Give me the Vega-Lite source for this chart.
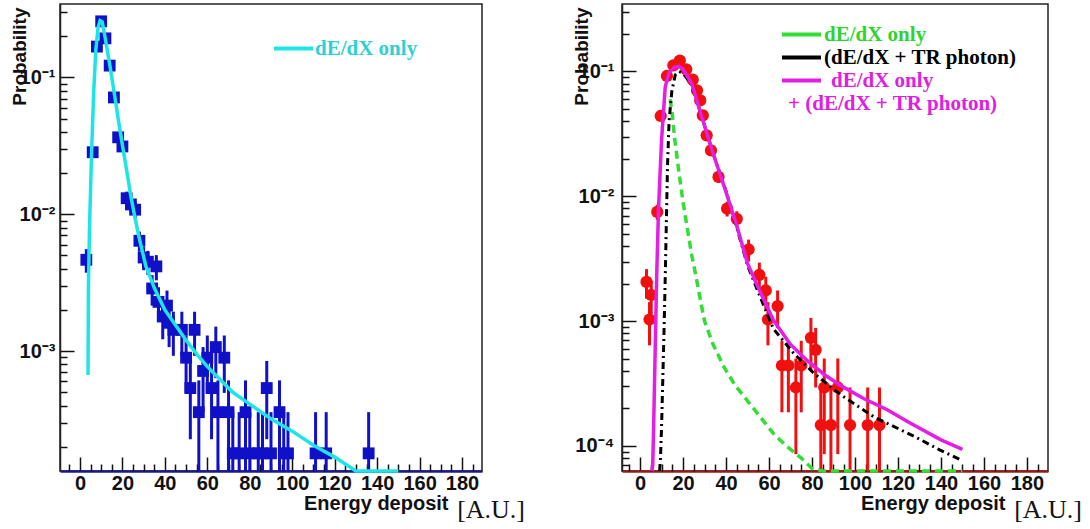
{
  "$schema": "https://vega.github.io/schema/vega-lite/v6.json",
  "background": "white",
  "padding": {"left": 9, "top": 3, "right": 5, "bottom": 5},
  "bounds": "flush",
  "spacing": 140,
  "resolve": {"scale": {"color": "independent"}, "legend": {"color": "independent"}},
  "config": {
    "font": "Liberation Sans",
    "view": {"stroke": "#222222", "strokeWidth": 1.5},
    "axis": {"grid": false, "zindex": 1, "tickColor": "#111111", "tickWidth": 1.5, "labelFlush": false, "labelOverlap": false}
  },
  "datasets": {
    "leftHist": [
      {"energy": 3, "prob": 0.00465, "lo": 0.00374, "hi": 0.00556},
      {"energy": 6, "prob": 0.0284, "lo": 0.0262, "hi": 0.0306},
      {"energy": 8, "prob": 0.168, "lo": 0.1625, "hi": 0.1735},
      {"energy": 10, "prob": 0.257, "lo": 0.2502, "hi": 0.2638},
      {"energy": 12, "prob": 0.193, "lo": 0.1871, "hi": 0.1989},
      {"energy": 14, "prob": 0.122, "lo": 0.1173, "hi": 0.1267},
      {"energy": 16, "prob": 0.0714, "lo": 0.0678, "hi": 0.075},
      {"energy": 18, "prob": 0.0365, "lo": 0.0339, "hi": 0.0391},
      {"energy": 20, "prob": 0.0313, "lo": 0.0289, "hi": 0.0337},
      {"energy": 22, "prob": 0.0131, "lo": 0.01157, "hi": 0.01463},
      {"energy": 24, "prob": 0.0118, "lo": 0.01035, "hi": 0.01325},
      {"energy": 26, "prob": 0.0108, "lo": 0.0094, "hi": 0.0122},
      {"energy": 28, "prob": 0.0064, "lo": 0.00533, "hi": 0.00747},
      {"energy": 30, "prob": 0.00483, "lo": 0.0039, "hi": 0.00576},
      {"energy": 32, "prob": 0.0045, "lo": 0.0036, "hi": 0.0054},
      {"energy": 34, "prob": 0.00287, "lo": 0.00215, "hi": 0.00359},
      {"energy": 36, "prob": 0.00416, "lo": 0.00329, "hi": 0.00503},
      {"energy": 37, "prob": 0.00229, "lo": 0.00166, "hi": 0.00293},
      {"energy": 39, "prob": 0.00179, "lo": 0.00122, "hi": 0.00236},
      {"energy": 41, "prob": 0.00215, "lo": 0.00153, "hi": 0.00277},
      {"energy": 42, "prob": 0.00161, "lo": 0.00107, "hi": 0.00215},
      {"energy": 44, "prob": 0.00143, "lo": 0.000924, "hi": 0.00194},
      {"energy": 48, "prob": 0.00143, "lo": 0.000924, "hi": 0.00194},
      {"energy": 50, "prob": 0.000895, "lo": 0.000495, "hi": 0.0013},
      {"energy": 52, "prob": 0.000537, "lo": 0.000227, "hi": 0.000847},
      {"energy": 54, "prob": 0.00143, "lo": 0.000924, "hi": 0.00194},
      {"energy": 56, "prob": 0.000358, "lo": 0.000105, "hi": 0.000611},
      {"energy": 58, "prob": 0.000716, "lo": 0.000358, "hi": 0.00107},
      {"energy": 60, "prob": 0.000895, "lo": 0.000495, "hi": 0.0013},
      {"energy": 62, "prob": 0.000537, "lo": 0.000227, "hi": 0.000847},
      {"energy": 64, "prob": 0.00107, "lo": 0.000634, "hi": 0.00151},
      {"energy": 65, "prob": 0.000358, "lo": 0.000105, "hi": 0.000611},
      {"energy": 68, "prob": 0.000895, "lo": 0.000495, "hi": 0.0013},
      {"energy": 70, "prob": 0.000358, "lo": 0.000105, "hi": 0.000611},
      {"energy": 72, "prob": 0.000179, "lo": 0.000001, "hi": 0.000358},
      {"energy": 75, "prob": 0.000179, "lo": 0.000001, "hi": 0.000358},
      {"energy": 78, "prob": 0.000358, "lo": 0.000105, "hi": 0.000611},
      {"energy": 80, "prob": 0.000179, "lo": 0.000001, "hi": 0.000358},
      {"energy": 84, "prob": 0.000179, "lo": 0.000001, "hi": 0.000358},
      {"energy": 86, "prob": 0.000179, "lo": 0.000001, "hi": 0.000358},
      {"energy": 88, "prob": 0.000537, "lo": 0.000227, "hi": 0.000847},
      {"energy": 90, "prob": 0.000179, "lo": 0.000001, "hi": 0.000358},
      {"energy": 94, "prob": 0.000358, "lo": 0.000105, "hi": 0.000611},
      {"energy": 96, "prob": 0.000179, "lo": 0.000001, "hi": 0.000358},
      {"energy": 98, "prob": 0.000179, "lo": 0.000001, "hi": 0.000358},
      {"energy": 111, "prob": 0.000179, "lo": 0.000001, "hi": 0.000358},
      {"energy": 116, "prob": 0.000179, "lo": 0.000001, "hi": 0.000358},
      {"energy": 136, "prob": 0.000179, "lo": 0.000001, "hi": 0.000358}
    ],
    "leftFit": [
      {"energy": 3.8, "prob": 0.00067}, {"energy": 4.0, "prob": 0.003}, {"energy": 4.5, "prob": 0.008},
      {"energy": 5.5, "prob": 0.029}, {"energy": 6.5, "prob": 0.08}, {"energy": 7.5, "prob": 0.16},
      {"energy": 8.5, "prob": 0.23}, {"energy": 9.5, "prob": 0.26}, {"energy": 10.5, "prob": 0.255},
      {"energy": 12, "prob": 0.19}, {"energy": 14, "prob": 0.125}, {"energy": 16, "prob": 0.08},
      {"energy": 18, "prob": 0.05}, {"energy": 20, "prob": 0.032}, {"energy": 22, "prob": 0.021},
      {"energy": 24, "prob": 0.0135}, {"energy": 26, "prob": 0.0093}, {"energy": 28, "prob": 0.0066},
      {"energy": 31, "prob": 0.0042}, {"energy": 35, "prob": 0.0029}, {"energy": 40, "prob": 0.002},
      {"energy": 45, "prob": 0.00155}, {"energy": 50, "prob": 0.0012}, {"energy": 55, "prob": 0.00095},
      {"energy": 60, "prob": 0.00077}, {"energy": 66, "prob": 0.00062}, {"energy": 72, "prob": 0.0005},
      {"energy": 80, "prob": 0.00041}, {"energy": 90, "prob": 0.00032}, {"energy": 100, "prob": 0.00026},
      {"energy": 110, "prob": 0.000205}, {"energy": 120, "prob": 0.000168}, {"energy": 130, "prob": 0.000133},
      {"energy": 140, "prob": 0.000105}, {"energy": 150, "prob": 0.000085}
    ],
    "rightHist": [
      {"energy": 3, "prob": 0.00206, "lo": 0.00151, "hi": 0.00261},
      {"energy": 4.4, "prob": 0.00103, "lo": 0.00064, "hi": 0.00142},
      {"energy": 5.2, "prob": 0.00162, "lo": 0.00113, "hi": 0.00211},
      {"energy": 8, "prob": 0.0075, "lo": 0.00645, "hi": 0.00855},
      {"energy": 9.6, "prob": 0.044, "lo": 0.0415, "hi": 0.0466},
      {"energy": 12.5, "prob": 0.092, "lo": 0.0883, "hi": 0.0957},
      {"energy": 15.5, "prob": 0.112, "lo": 0.108, "hi": 0.116},
      {"energy": 18.5, "prob": 0.122, "lo": 0.1178, "hi": 0.1262},
      {"energy": 21.5, "prob": 0.104, "lo": 0.1001, "hi": 0.1079},
      {"energy": 24.5, "prob": 0.086, "lo": 0.0825, "hi": 0.0895},
      {"energy": 26.5, "prob": 0.0705, "lo": 0.0673, "hi": 0.0737},
      {"energy": 28, "prob": 0.0586, "lo": 0.0557, "hi": 0.0615},
      {"energy": 29.2, "prob": 0.0445, "lo": 0.0419, "hi": 0.0471},
      {"energy": 31, "prob": 0.0308, "lo": 0.0287, "hi": 0.0329},
      {"energy": 33, "prob": 0.0233, "lo": 0.0214, "hi": 0.0252},
      {"energy": 36.5, "prob": 0.0143, "lo": 0.0128, "hi": 0.0158},
      {"energy": 40.5, "prob": 0.00797, "lo": 0.00689, "hi": 0.00905},
      {"energy": 45, "prob": 0.0066, "lo": 0.00562, "hi": 0.00758},
      {"energy": 50.5, "prob": 0.00375, "lo": 0.003, "hi": 0.0045},
      {"energy": 55.5, "prob": 0.00235, "lo": 0.00176, "hi": 0.00294},
      {"energy": 58.5, "prob": 0.00176, "lo": 0.00125, "hi": 0.00227},
      {"energy": 59.5, "prob": 0.00103, "lo": 0.00064, "hi": 0.00142},
      {"energy": 64, "prob": 0.00132, "lo": 0.00088, "hi": 0.00176},
      {"energy": 66, "prob": 0.000441, "lo": 0.000186, "hi": 0.000696},
      {"energy": 69, "prob": 0.000441, "lo": 0.000186, "hi": 0.000696},
      {"energy": 72.5, "prob": 0.000294, "lo": 0.000086, "hi": 0.000502},
      {"energy": 75, "prob": 0.000441, "lo": 0.000186, "hi": 0.000696},
      {"energy": 79.5, "prob": 0.000735, "lo": 0.000406, "hi": 0.00106},
      {"energy": 81.7, "prob": 0.000588, "lo": 0.000294, "hi": 0.000882},
      {"energy": 84.1, "prob": 0.000147, "lo": 0.000001, "hi": 0.000294},
      {"energy": 85.7, "prob": 0.000294, "lo": 0.000086, "hi": 0.000502},
      {"energy": 88.8, "prob": 0.000147, "lo": 0.000001, "hi": 0.000294},
      {"energy": 92, "prob": 0.000294, "lo": 0.000086, "hi": 0.000502},
      {"energy": 97.7, "prob": 0.000147, "lo": 0.000001, "hi": 0.000294},
      {"energy": 105.9, "prob": 0.000147, "lo": 0.000001, "hi": 0.000294},
      {"energy": 111.4, "prob": 0.000147, "lo": 0.000001, "hi": 0.000294}
    ],
    "greenCurve": [
      {"energy": 14, "prob": 0.06}, {"energy": 15, "prob": 0.045}, {"energy": 16, "prob": 0.03},
      {"energy": 18, "prob": 0.016}, {"energy": 20, "prob": 0.009}, {"energy": 22, "prob": 0.0055},
      {"energy": 24, "prob": 0.0034}, {"energy": 26, "prob": 0.0023}, {"energy": 28, "prob": 0.0015},
      {"energy": 30, "prob": 0.001}, {"energy": 34, "prob": 0.00065}, {"energy": 39, "prob": 0.00043},
      {"energy": 44, "prob": 0.00031}, {"energy": 50, "prob": 0.00023}, {"energy": 56, "prob": 0.00017},
      {"energy": 62, "prob": 0.000126}, {"energy": 68, "prob": 0.0001}, {"energy": 75, "prob": 0.00008},
      {"energy": 80, "prob": 0.000066}, {"energy": 85, "prob": 0.000055}, {"energy": 100, "prob": 0.00004},
      {"energy": 125, "prob": 0.00003}, {"energy": 150, "prob": 0.00002}
    ],
    "blackCurve": [
      {"energy": 9.1, "prob": 0.00004}, {"energy": 9.5, "prob": 0.00008}, {"energy": 10.0, "prob": 0.00014},
      {"energy": 10.5, "prob": 0.0003}, {"energy": 11.2, "prob": 0.0009}, {"energy": 11.8, "prob": 0.0026},
      {"energy": 12.3, "prob": 0.007}, {"energy": 12.8, "prob": 0.018}, {"energy": 13.5, "prob": 0.04},
      {"energy": 14.8, "prob": 0.07}, {"energy": 16.4, "prob": 0.094}, {"energy": 18, "prob": 0.1},
      {"energy": 20, "prob": 0.097}, {"energy": 24, "prob": 0.078}, {"energy": 28.8, "prob": 0.043},
      {"energy": 34, "prob": 0.022}, {"energy": 40, "prob": 0.011}, {"energy": 45, "prob": 0.0056},
      {"energy": 50, "prob": 0.0028}, {"energy": 55, "prob": 0.0017}, {"energy": 62, "prob": 0.00087},
      {"energy": 71.6, "prob": 0.00055}, {"energy": 81, "prob": 0.00038}, {"energy": 93.5, "prob": 0.000256},
      {"energy": 109, "prob": 0.00017}, {"energy": 127.7, "prob": 0.000119}, {"energy": 139.4, "prob": 0.000093},
      {"energy": 149.5, "prob": 0.000077}
    ],
    "magentaCurve": [
      {"energy": 5.5, "prob": 0.00003}, {"energy": 5.9, "prob": 0.00007}, {"energy": 6.5, "prob": 0.0002},
      {"energy": 7.2, "prob": 0.0008}, {"energy": 7.8, "prob": 0.0025}, {"energy": 8.6, "prob": 0.008},
      {"energy": 10, "prob": 0.028}, {"energy": 11.7, "prob": 0.075}, {"energy": 13.5, "prob": 0.098},
      {"energy": 16, "prob": 0.108}, {"energy": 18, "prob": 0.11}, {"energy": 20, "prob": 0.104},
      {"energy": 24, "prob": 0.08}, {"energy": 28.8, "prob": 0.043}, {"energy": 34, "prob": 0.022},
      {"energy": 39.7, "prob": 0.0112}, {"energy": 45, "prob": 0.0058}, {"energy": 50, "prob": 0.0029},
      {"energy": 55, "prob": 0.00185}, {"energy": 62, "prob": 0.00102}, {"energy": 70, "prob": 0.00065},
      {"energy": 78, "prob": 0.00048}, {"energy": 86, "prob": 0.00037}, {"energy": 94, "prob": 0.0003},
      {"energy": 104, "prob": 0.00024}, {"energy": 115, "prob": 0.000195}, {"energy": 125, "prob": 0.000155},
      {"energy": 140, "prob": 0.000112}, {"energy": 150, "prob": 0.000094}
    ]
  },
  "hconcat": [
    {
      "width": 422,
      "height": 467,
      "title": {"text": "[A.U.]", "orient": "bottom", "anchor": "end", "frame": "group", "font": "Liberation Serif", "fontSize": 26, "fontWeight": "normal", "color": "#111111", "dx": 43, "offset": -16},
      "resolve": {"axis": {"x": "independent", "y": "independent"}},
      "layer": [
        {
          "data": {"name": "leftHist"},
          "mark": {"type": "rule", "color": "#1010c8", "strokeWidth": 3},
          "encoding": {
            "x": {
              "field": "energy", "type": "quantitative", "title": "Energy deposit",
              "scale": {"domain": [-9.4, 189.4], "nice": false, "zero": false},
              "axis": {
                "orient": "bottom", "zindex": 0,
                "values": [0, 20, 40, 60, 80, 100, 120, 140, 160, 180],
                "tickSize": -14,
                "domainColor": "#1a1a8c", "domainWidth": 2.5,
                "labelFont": "Liberation Sans", "labelFontWeight": "bold", "labelFontSize": 20, "labelColor": "#111111", "labelPadding": 16,
                "titleFont": "Liberation Sans", "titleFontWeight": "bold", "titleFontSize": 20, "titleColor": "#111111",
                "titleAlign": "right", "titleX": 388, "titleY": 38, "titleBaseline": "alphabetic"
              }
            },
            "y": {
              "field": "lo", "type": "quantitative", "title": "Probability",
              "scale": {"type": "log", "domain": [0.000133, 0.344], "nice": false, "clamp": true},
              "axis": {
                "orient": "left",
                "values": [0.001, 0.01, 0.1],
                "labelExpr": "datum.value === 0.1 ? '10⁻¹' : datum.value === 0.01 ? '10⁻²' : '10⁻³'",
                "tickSize": -14,
                "domainColor": "#222222", "domainWidth": 1.5,
                "labelFont": "Liberation Sans", "labelFontWeight": "bold", "labelFontSize": 20, "labelColor": "#111111", "labelPadding": 19,
                "titleFont": "Liberation Sans", "titleFontWeight": "bold", "titleFontSize": 19, "titleColor": "#111111",
                "titleAngle": -90, "titleAlign": "right", "titleBaseline": "middle", "titleX": -41, "titleY": 3
              }
            },
            "y2": {"field": "hi"}
          }
        },
        {
          "data": {"name": "leftHist"},
          "mark": {"type": "square", "color": "#1010c8", "size": 140, "opacity": 1},
          "encoding": {
            "x": {
              "field": "energy", "type": "quantitative", "title": null,
              "axis": {
                "orient": "bottom",
                "values": [-5, 5, 10, 15, 25, 30, 35, 45, 50, 55, 65, 70, 75, 85, 90, 95, 105, 110, 115, 125, 130, 135, 145, 150, 155, 165, 170, 175, 185],
                "tickSize": -7, "labels": false, "domain": false, "title": null
              }
            },
            "y": {
              "field": "prob", "type": "quantitative", "title": null,
              "axis": {
                "orient": "left",
                "values": [0.0002, 0.0003, 0.0004, 0.0005, 0.0006, 0.0007, 0.0008, 0.0009, 0.002, 0.003, 0.004, 0.005, 0.006, 0.007, 0.008, 0.009, 0.02, 0.03, 0.04, 0.05, 0.06, 0.07, 0.08, 0.09, 0.2, 0.3],
                "tickSize": -7, "labels": false, "domain": false, "title": null
              }
            }
          }
        },
        {
          "data": {"name": "leftFit"},
          "mark": {"type": "line", "strokeWidth": 3.5},
          "encoding": {
            "x": {"field": "energy", "type": "quantitative", "axis": null},
            "y": {"field": "prob", "type": "quantitative", "axis": null},
            "color": {
              "datum": "dE/dX only",
              "scale": {"domain": ["dE/dX only"], "range": ["#1ee5e5"]},
              "legend": {
                "orient": "none", "legendX": 223, "legendY": 34, "title": null, "padding": 0,
                "symbolType": "M-3,0H3", "symbolStrokeWidth": 4, "symbolSize": 169, "symbolDash": [100, 0],
                "labelFont": "Liberation Serif", "labelFontSize": 21, "labelFontWeight": "bold", "labelColor": "#2fd0d0", "labelOffset": 11
              }
            }
          }
        }
      ]
    },
    {
      "width": 426,
      "height": 467,
      "title": {"text": "[A.U.]", "orient": "bottom", "anchor": "end", "frame": "group", "font": "Liberation Serif", "fontSize": 26, "fontWeight": "normal", "color": "#111111", "dx": 34, "offset": -16},
      "resolve": {"axis": {"x": "independent", "y": "independent"}},
      "layer": [
        {
          "data": {"name": "rightHist"},
          "mark": {"type": "rule", "color": "#f01010", "strokeWidth": 3},
          "encoding": {
            "x": {
              "field": "energy", "type": "quantitative", "title": "Energy deposit",
              "scale": {"domain": [-8.4, 189.8], "nice": false, "zero": false},
              "axis": {
                "orient": "bottom", "zindex": 0,
                "values": [0, 20, 40, 60, 80, 100, 120, 140, 160, 180],
                "tickSize": -14,
                "domainColor": "#9a1a1a", "domainWidth": 2.5,
                "labelFont": "Liberation Sans", "labelFontWeight": "bold", "labelFontSize": 20, "labelColor": "#111111", "labelPadding": 16,
                "titleFont": "Liberation Sans", "titleFontWeight": "bold", "titleFontSize": 20, "titleColor": "#111111",
                "titleAlign": "right", "titleX": 383, "titleY": 38, "titleBaseline": "alphabetic"
              }
            },
            "y": {
              "field": "lo", "type": "quantitative", "title": "Probability",
              "scale": {"type": "log", "domain": [0.000063, 0.347], "nice": false, "clamp": true},
              "axis": {
                "orient": "left",
                "values": [0.0001, 0.001, 0.01, 0.1],
                "labelExpr": "datum.value === 0.1 ? '10⁻¹' : datum.value === 0.01 ? '10⁻²' : datum.value === 0.001 ? '10⁻³' : '10⁻⁴'",
                "tickSize": -14,
                "domainColor": "#222222", "domainWidth": 1.5,
                "labelFont": "Liberation Sans", "labelFontWeight": "bold", "labelFontSize": 20, "labelColor": "#111111", "labelPadding": 22,
                "titleFont": "Liberation Sans", "titleFontWeight": "bold", "titleFontSize": 19, "titleColor": "#111111",
                "titleAngle": -90, "titleAlign": "right", "titleBaseline": "middle", "titleX": -41, "titleY": 3
              }
            },
            "y2": {"field": "hi"}
          }
        },
        {
          "data": {"name": "rightHist"},
          "mark": {"type": "circle", "color": "#f01010", "size": 150, "opacity": 1},
          "encoding": {
            "x": {
              "field": "energy", "type": "quantitative", "title": null,
              "axis": {
                "orient": "bottom",
                "values": [-5, 5, 10, 15, 25, 30, 35, 45, 50, 55, 65, 70, 75, 85, 90, 95, 105, 110, 115, 125, 130, 135, 145, 150, 155, 165, 170, 175, 185],
                "tickSize": -7, "labels": false, "domain": false, "title": null
              }
            },
            "y": {
              "field": "prob", "type": "quantitative", "title": null,
              "axis": {
                "orient": "left",
                "values": [0.00007, 0.00008, 0.00009, 0.0002, 0.0003, 0.0004, 0.0005, 0.0006, 0.0007, 0.0008, 0.0009, 0.002, 0.003, 0.004, 0.005, 0.006, 0.007, 0.008, 0.009, 0.02, 0.03, 0.04, 0.05, 0.06, 0.07, 0.08, 0.09, 0.2, 0.3],
                "tickSize": -7, "labels": false, "domain": false, "title": null
              }
            }
          }
        },
        {
          "data": {"name": "greenCurve"},
          "mark": {"type": "line", "strokeWidth": 3.5, "strokeDash": [8, 5]},
          "encoding": {
            "x": {"field": "energy", "type": "quantitative", "axis": null},
            "y": {"field": "prob", "type": "quantitative", "axis": null},
            "color": {
              "datum": "dE/dX only",
              "scale": {
                "domain": ["dE/dX only", "(dE/dX + TR photon)", "dE/dX only + (dE/dX + TR photon)", "+ (dE/dX + TR photon)"],
                "range": ["#33dd33", "#000000", "#e41ee4", "rgba(0,0,0,0)"]
              },
              "legend": {
                "orient": "none", "legendX": 169, "legendY": 20, "title": null, "padding": 0, "rowPadding": 1,
                "symbolType": "M-3,0H3", "symbolStrokeWidth": 4, "symbolSize": 169, "symbolDash": [100, 0],
                "labelFont": "Liberation Serif", "labelFontSize": 21, "labelFontWeight": "bold", "labelOffset": 12, "labelLimit": 400,
                "labelExpr": "datum.value === 'dE/dX only + (dE/dX + TR photon)' ? 'dE/dX only' : datum.value",
                "encode": {
                  "labels": {
                    "update": {
                      "fill": {"signal": "datum.value === 'dE/dX only' ? '#2ed42e' : datum.value === '(dE/dX + TR photon)' ? '#000000' : '#e020e0'"},
                      "dx": {"signal": "datum.value === '+ (dE/dX + TR photon)' ? -36 : datum.value === 'dE/dX only + (dE/dX + TR photon)' ? 7 : 0"}
                    }
                  }
                }
              }
            }
          }
        },
        {
          "data": {"name": "blackCurve"},
          "mark": {"type": "line", "strokeWidth": 3, "strokeDash": [7, 4, 2, 4]},
          "encoding": {
            "x": {"field": "energy", "type": "quantitative", "axis": null},
            "y": {"field": "prob", "type": "quantitative", "axis": null},
            "color": {"datum": "(dE/dX + TR photon)"}
          }
        },
        {
          "data": {"name": "magentaCurve"},
          "mark": {"type": "line", "strokeWidth": 3.5},
          "encoding": {
            "x": {"field": "energy", "type": "quantitative", "axis": null},
            "y": {"field": "prob", "type": "quantitative", "axis": null},
            "color": {"datum": "dE/dX only + (dE/dX + TR photon)"}
          }
        }
      ]
    }
  ]
}
